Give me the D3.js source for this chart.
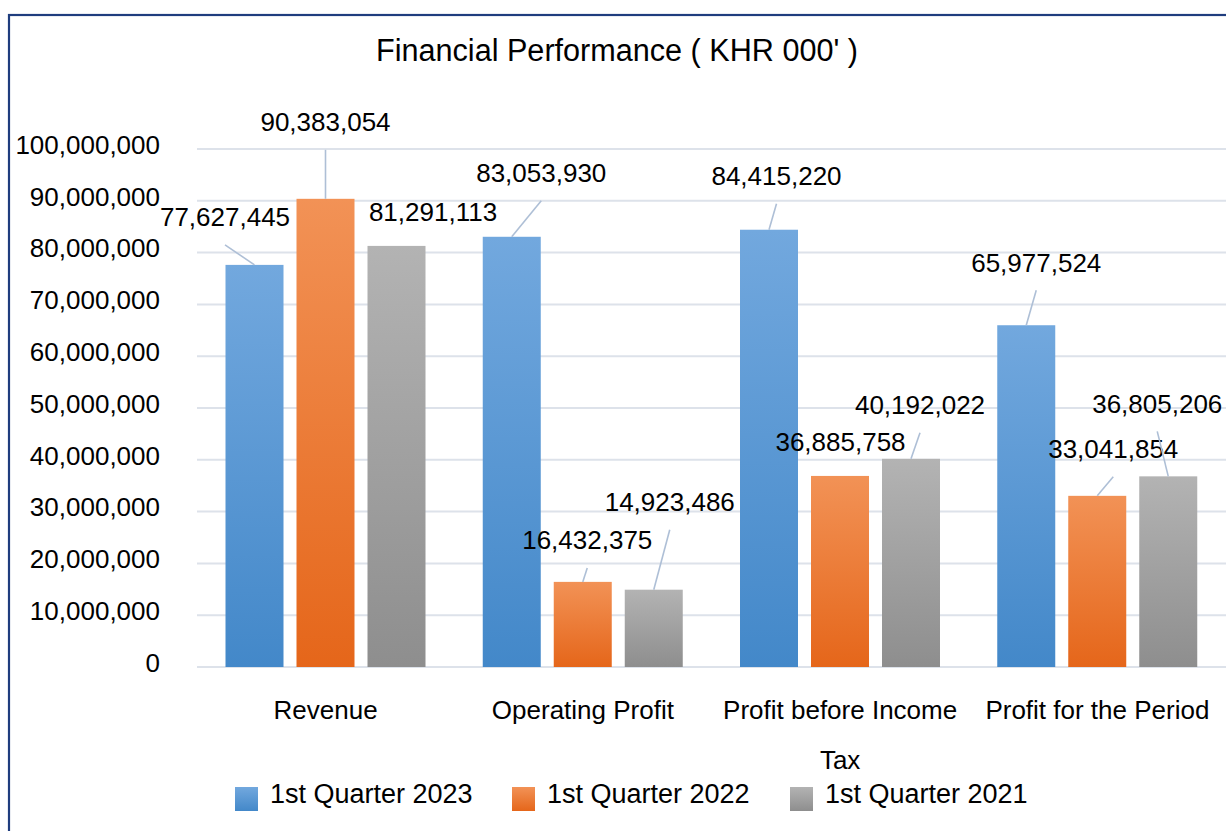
<!DOCTYPE html>
<html>
<head>
<meta charset="utf-8">
<script src="https://cdn.jsdelivr.net/npm/d3@7"></script>
<style>
  html, body { margin: 0; padding: 0; background: #ffffff; }
  svg { display: block; }
  text { font-family: "Liberation Sans", Arial, sans-serif; fill: #000; }
</style>
</head>
<body>
<svg id="chart" width="1226" height="831"></svg>
<script>
// ---- data ----
const categories = ["Revenue", "Operating Profit", "Profit before Income Tax", "Profit for the Period"];
const seriesNames = ["1st Quarter 2023", "1st Quarter 2022", "1st Quarter 2021"];
const q1_2023 = [77627445, 83053930, 84415220, 65977524];
const q1_2022 = [90383054, 16432375, 36885758, 33041854];
const q1_2021 = [81291113, 14923486, 40192022, 36805206];
const yTicks = [0, 10000000, 20000000, 30000000, 40000000, 50000000, 60000000, 70000000, 80000000, 90000000, 100000000];
const titleText = "Financial Performance ( KHR 000' )";

// ---- layout (not data) ----
const seriesValues = [q1_2023, q1_2022, q1_2021];
const gradStops = [["#72A8DE", "#4388C9"], ["#F29256", "#E5661A"], ["#B3B3B3", "#8E8E8E"]];
// label offsets (px) relative to bar top centre, per series per category
const labelOffsets = [
  [[-29.5, -48], [29.5, -64], [7.5, -54], [10, -63]],
  [[0, -77], [4.5, -42], [0.5, -34], [16, -47]],
  [[36.5, -34], [16, -88], [9, -54], [-11, -73]]
];

const svg = d3.select("#chart");
const W = 1226, H = 831;

// border
svg.append("rect").attr("x", 9).attr("y", 15).attr("width", W + 20).attr("height", H + 20)
  .attr("fill", "none").attr("stroke", "#1F3D7E").attr("stroke-width", 2.2);

// gradients
const defs = svg.append("defs");
gradStops.forEach((s, i) => {
  const g = defs.append("linearGradient").attr("id", "g" + i)
    .attr("x1", 0).attr("y1", 0).attr("x2", 0).attr("y2", 1);
  g.append("stop").attr("offset", "0%").attr("stop-color", s[0]);
  g.append("stop").attr("offset", "100%").attr("stop-color", s[1]);
});

const x0 = d3.scaleBand().domain(categories).range([197, 1226]).paddingInner(0).paddingOuter(0);
const x1 = d3.scaleBand().domain(seriesNames).range([28.5, 228.5]).paddingInner(13 / 71).paddingOuter(0);
const y = d3.scaleLinear().domain([0, 100000000]).range([667, 149]);

// title
svg.append("text").attr("x", 617).attr("y", 61).attr("text-anchor", "middle")
  .style("font-size", "30.6px").text(titleText);

// gridlines
svg.append("g").selectAll("line").data(yTicks).join("line")
  .attr("x1", 197).attr("x2", W).attr("y1", d => y(d)).attr("y2", d => y(d))
  .attr("stroke", "#DDE2EA").attr("stroke-width", 2);

// y axis labels
const yAxis = d3.axisLeft(y).tickValues(yTicks).tickFormat(d3.format(",")).tickSize(0).tickPadding(0);
const ya = svg.append("g").attr("transform", "translate(160,0)").call(yAxis);
ya.select(".domain").remove();
ya.selectAll("text").style("font-size", "26px").style("font-family", "'Liberation Sans', Arial, sans-serif")
  .attr("fill", "#000").attr("dy", "0.28em").attr("y", -3);

// bars
const groups = svg.append("g").selectAll("g").data(categories).join("g")
  .attr("transform", c => `translate(${x0(c)},0)`);
seriesNames.forEach((s, si) => {
  groups.append("rect")
    .attr("x", x1(s)).attr("width", x1.bandwidth())
    .attr("y", (c, ci) => y(seriesValues[si][ci]))
    .attr("height", (c, ci) => y(0) - y(seriesValues[si][ci]))
    .attr("fill", `url(#g${si})`);
});

// data labels + leader lines
const fmt = d3.format(",");
seriesNames.forEach((s, si) => {
  categories.forEach((c, ci) => {
    const v = seriesValues[si][ci];
    const bx = x0(c) + x1(s) + x1.bandwidth() / 2;
    const by = y(v);
    const [dx, dy] = labelOffsets[si][ci];
    const lx = bx + dx, ly = by + dy;
    const sx = lx, sy = ly + 28;
    if (by - sy > 8) {
      svg.append("line").attr("x1", sx).attr("y1", sy).attr("x2", bx).attr("y2", by)
        .attr("stroke", "#AEBFD6").attr("stroke-width", 1.6);
    }
    svg.append("text").attr("x", lx).attr("y", ly).attr("dy", "0.36em")
      .attr("text-anchor", "middle").style("font-size", "26px").text(fmt(v));
  });
});

// category labels with wrapping
const catG = svg.append("g");
categories.forEach(c => {
  const t = catG.append("text").attr("x", x0(c) + x0.bandwidth() / 2).attr("y", 719)
    .attr("text-anchor", "middle").style("font-size", "26px");
  const words = c.split(" ");
  let line = [];
  let tspan = t.append("tspan").attr("x", x0(c) + x0.bandwidth() / 2).attr("dy", 0);
  words.forEach(w => {
    line.push(w);
    tspan.text(line.join(" "));
    if (tspan.node().getComputedTextLength() > 252 && line.length > 1) {
      line.pop();
      tspan.text(line.join(" "));
      line = [w];
      tspan = t.append("tspan").attr("x", x0(c) + x0.bandwidth() / 2).attr("dy", 50).text(w);
    }
  });
});

// legend
const legendX = [235, 512, 790];
const leg = svg.append("g").selectAll("g").data(seriesNames).join("g")
  .attr("transform", (d, i) => `translate(${legendX[i]},787)`);
leg.append("rect").attr("width", 23).attr("height", 24).attr("fill", (d, i) => `url(#g${i})`);
leg.append("text").attr("x", 35).attr("y", 7).attr("dy", "0.35em").style("font-size", "27px").text(d => d);
</script>
</body>
</html>
